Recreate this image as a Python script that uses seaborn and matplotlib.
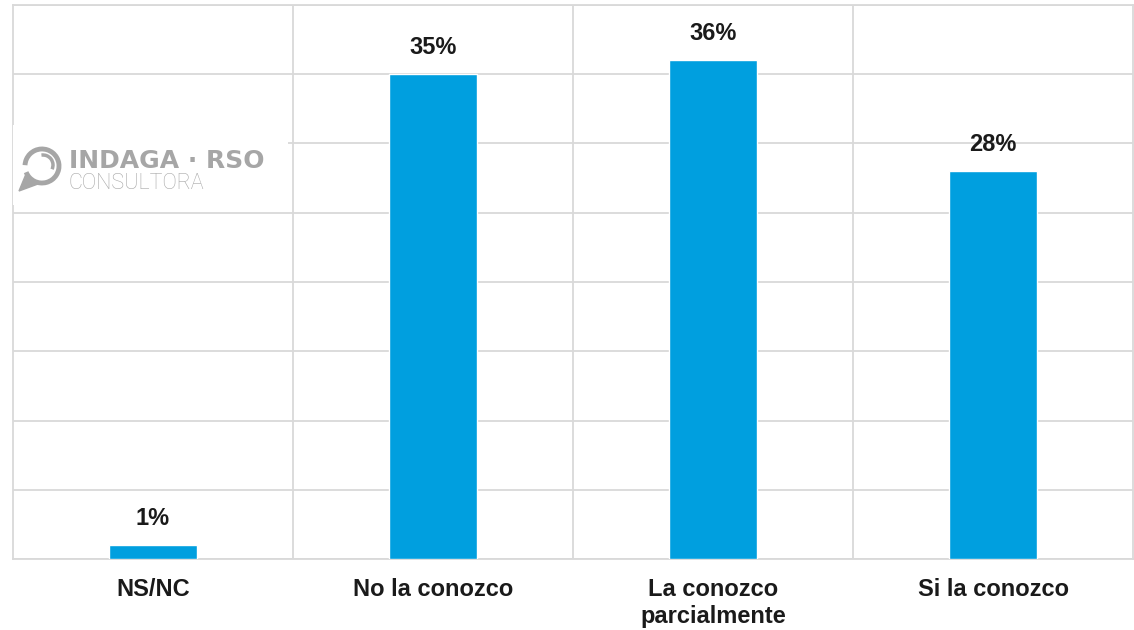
import numpy as np
import pandas as pd
import matplotlib
matplotlib.use("Agg")
import matplotlib.pyplot as plt
import matplotlib.patches as mpatches
import seaborn as sns

# Data
categories = ["NS/NC", "No la conozco", "La conozco\nparcialmente", "Si la conozco"]
values = [1, 35, 36, 28]

df = pd.DataFrame({"Respuesta": categories, "Porcentaje": values})

sns.set_theme(style="white")
plt.rcParams["font.family"] = ["Liberation Sans", "DejaVu Sans"]

bar_color = "#009FDF"
grid_color = "#D9D9D9"

fig = plt.figure(figsize=(11.34, 6.3), dpi=100)
ax = fig.add_axes([13 / 1134, 71 / 630, 1120 / 1134, 554 / 630])

sns.barplot(data=df, x="Respuesta", y="Porcentaje", color=bar_color,
            width=0.314, saturation=1, ax=ax, zorder=3)

ax.set_xlim(-0.5, 3.5)
ax.set_ylim(0, 40)
ax.set_yticks(np.arange(0, 41, 5))
ax.set_yticklabels([])
ax.tick_params(axis="y", length=0)
ax.set_xticks(np.arange(0.5, 3.5, 1), minor=True)
ax.tick_params(axis="x", which="both", length=0, pad=14, labelsize=17)
for lbl in ax.get_xticklabels():
    lbl.set_fontweight("bold")
    lbl.set_color("#1a1a1a")
    lbl.set_linespacing(1.2)
    lbl.set_verticalalignment("top")

ax.grid(axis="y", color=grid_color, linewidth=1.3, zorder=0)
ax.grid(axis="x", which="minor", color=grid_color, linewidth=1.3, zorder=0)
for s in ax.spines.values():
    s.set_color(grid_color)
    s.set_linewidth(1.3)
ax.set_xlabel("")
ax.set_ylabel("")

# Value labels
for i, v in enumerate(values):
    ax.annotate(f"{v}%", (i, v), xytext=(0, 11), textcoords="offset points",
                ha="center", va="bottom", fontsize=17, fontweight="bold",
                color="#1a1a1a")

# Watermark logo
W, H = 1134, 630
fig.patches.append(mpatches.Rectangle((13 / W, 1 - 205 / H), 275 / W, 80 / H,
                                      transform=fig.transFigure, facecolor="white",
                                      edgecolor="none", zorder=5))
logo_gray = "#A6A6A6"
fig.patches.append(mpatches.Arc((42 / W, 1 - 166 / H), 34 / W, 34 / H, theta1=215, theta2=175,
                                transform=fig.transFigure, color=logo_gray, linewidth=3.5,
                                zorder=6))
fig.patches.append(mpatches.Arc((43 / W, 1 - 165 / H), 20 / W, 20 / H, theta1=-40, theta2=95,
                                transform=fig.transFigure, color=logo_gray, linewidth=2.5,
                                zorder=6))
fig.patches.append(mpatches.Polygon([(19 / W, 1 - 191 / H), (26 / W, 1 - 174 / H),
                                     (38 / W, 1 - 184 / H)], closed=True,
                                    transform=fig.transFigure, color=logo_gray, zorder=6))
fig.text(69 / W, 1 - 168 / H, "INDAGA · RSO", fontsize=18, fontweight="bold",
         color=logo_gray, family=["DejaVu Sans"], ha="left", va="baseline",
         zorder=7)
fig.text(68 / W, 1 - 189 / H, "CONSULTORA", fontsize=15.5, fontweight="light",
         color=logo_gray, family=["Roboto", "DejaVu Sans"], ha="left", va="baseline",
         zorder=7)

fig.savefig("out.png", dpi=100, facecolor="white")
